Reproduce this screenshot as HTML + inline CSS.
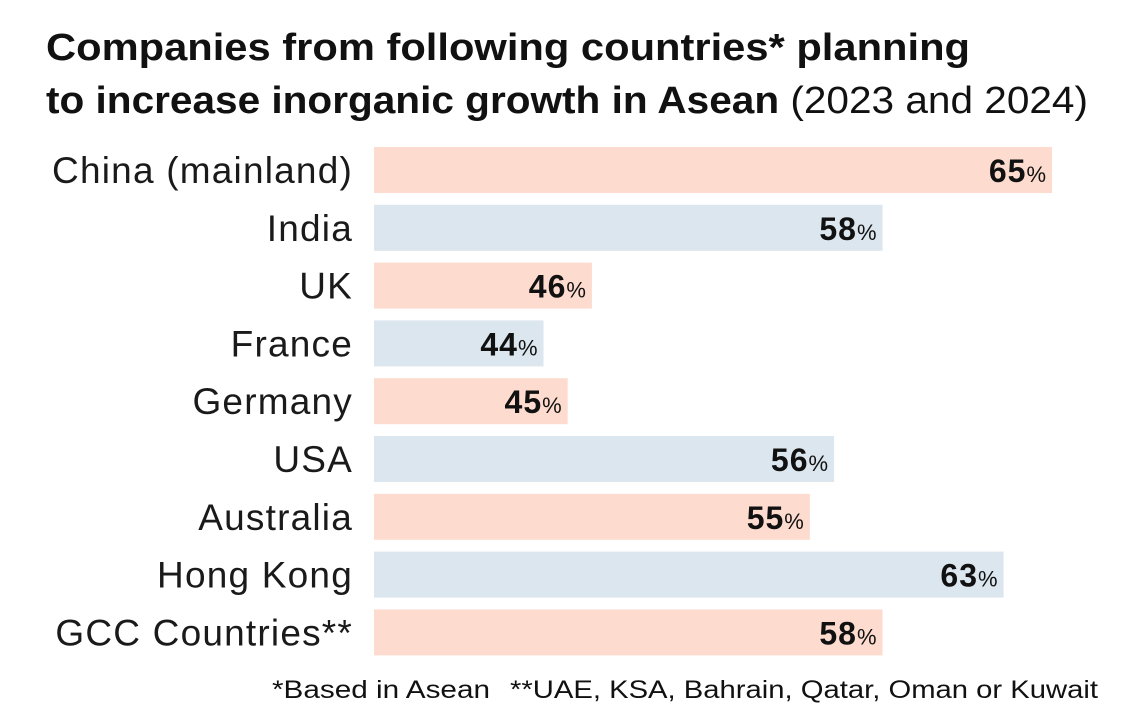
<!DOCTYPE html>
<html><head><meta charset="utf-8"><style>
body{margin:0;background:#fff;width:1140px;height:727px;overflow:hidden;font-family:"Liberation Sans",sans-serif;}
</style></head><body>
<svg id="c" width="1140" height="727" style="position:absolute;left:0;top:0">
<text x="46" y="60" font-size="38" font-weight="bold" fill="#111" textLength="924" lengthAdjust="spacingAndGlyphs">Companies from following countries* planning</text>
<text x="46" y="113" font-size="38" fill="#111" textLength="1042" lengthAdjust="spacingAndGlyphs"><tspan font-weight="bold">to increase inorganic growth in Asean</tspan> (2023 and 2024)</text>
<text x="272" y="698" font-size="25" fill="#111" textLength="218" lengthAdjust="spacingAndGlyphs">*Based in Asean</text>
<text x="510" y="698" font-size="25" fill="#111" textLength="588" lengthAdjust="spacingAndGlyphs">**UAE, KSA, Bahrain, Qatar, Oman or Kuwait</text>
</svg>
<script>
const categories=["China (mainland)","India","UK","France","Germany","USA","Australia","Hong Kong","GCC Countries**"];
const values=[65,58,46,44,45,56,55,63,58];
const domainMin=37, domainMax=65;
const svg=document.getElementById('c');
const NS="http://www.w3.org/2000/svg";
function x(v){return 374+(v-domainMin)/(domainMax-domainMin)*(1052-374);}
function y(i){return 147+i*57.8;}
const bh=46;
categories.forEach((c,i)=>{
  const r=document.createElementNS(NS,'rect');
  r.setAttribute('x',374);r.setAttribute('y',y(i));
  r.setAttribute('width',x(values[i])-374);r.setAttribute('height',bh);
  r.setAttribute('fill',i%2?'#dce6ee':'#fddccf');
  
  
  svg.appendChild(r);
  const l=document.createElementNS(NS,'text');
  l.setAttribute('x',353);l.setAttribute('y',y(i)+bh/2+13);
  l.setAttribute('text-anchor','end');l.setAttribute('font-size','37');l.setAttribute('fill','#1a1a1a');
  l.setAttribute('letter-spacing','1.2');
  l.textContent=c;
  
  
  svg.appendChild(l);
  const v=document.createElementNS(NS,'text');
  v.setAttribute('x',x(values[i])-6);v.setAttribute('y',y(i)+bh/2+12);
  v.setAttribute('text-anchor','end');v.setAttribute('fill','#111');
  v.innerHTML='<tspan font-size="32" font-weight="bold" letter-spacing="1">'+values[i]+'</tspan><tspan font-size="22">%</tspan>';
  
  
  svg.appendChild(v);
});
</script>
</body></html>
